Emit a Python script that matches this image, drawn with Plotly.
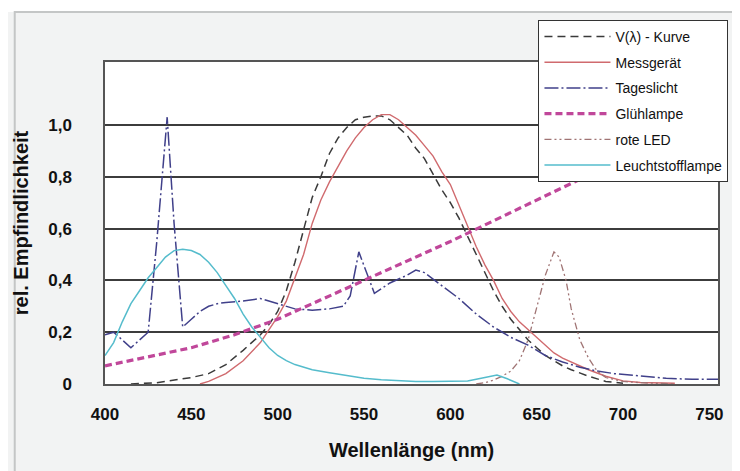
import plotly.graph_objects as go

# ---------------- data ----------------
v_nm = [415, 430, 450, 460, 470, 480, 490, 495, 500, 505, 510, 515, 520, 525, 530, 535,
        540, 545, 550, 555, 560, 565, 570, 575, 580, 585, 590, 595, 600, 605, 610, 615,
        620, 625, 630, 635, 640, 645, 650, 655, 660, 665, 670, 680, 690, 700]
v_val = [0.0, 0.005, 0.025, 0.04, 0.075, 0.13, 0.19, 0.23, 0.28, 0.36, 0.47, 0.60, 0.72,
         0.80, 0.89, 0.95, 0.99, 1.02, 1.03, 1.035, 1.035, 1.02, 0.99, 0.96, 0.91, 0.87,
         0.81, 0.75, 0.70, 0.64, 0.57, 0.50, 0.43, 0.36, 0.30, 0.25, 0.21, 0.17, 0.14,
         0.11, 0.09, 0.07, 0.055, 0.03, 0.01, 0.003]

mess_nm = [455, 460, 470, 480, 490, 500, 505, 510, 515, 520, 525, 530, 535, 540, 545, 550,
           555, 560, 565, 570, 575, 580, 585, 590, 595, 600, 605, 610, 615, 620, 625, 630,
           635, 640, 645, 650, 655, 660, 665, 670, 680, 690, 700, 710, 730]
mess_val = [0.0, 0.01, 0.04, 0.09, 0.16, 0.26, 0.32, 0.41, 0.50, 0.62, 0.71, 0.78, 0.84,
            0.90, 0.95, 0.99, 1.02, 1.04, 1.04, 1.02, 0.99, 0.96, 0.92, 0.88, 0.82, 0.77,
            0.69, 0.61, 0.53, 0.46, 0.40, 0.33, 0.28, 0.24, 0.21, 0.18, 0.15, 0.12, 0.10,
            0.085, 0.055, 0.03, 0.012, 0.006, 0.003]

tag_nm = [400, 405, 410, 415, 420, 425, 430, 436, 440, 445, 450, 455, 460, 465, 470, 480,
          490, 500, 510, 520, 530, 538, 542, 547, 551, 556, 565, 575, 580, 585, 595, 605,
          615, 625, 635, 645, 655, 665, 675, 685, 695, 710, 725, 740, 755]
tag_val = [0.19, 0.20, 0.17, 0.14, 0.17, 0.20, 0.55, 1.03, 0.62, 0.22, 0.25, 0.28, 0.30,
           0.31, 0.315, 0.32, 0.33, 0.31, 0.29, 0.285, 0.29, 0.30, 0.34, 0.51, 0.44, 0.35,
           0.39, 0.42, 0.44, 0.43, 0.38, 0.33, 0.27, 0.22, 0.18, 0.15, 0.11, 0.085, 0.065,
           0.05, 0.04, 0.03, 0.022, 0.018, 0.018]

glueh_nm = [400, 425, 450, 475, 500, 525, 550, 575, 600, 625, 650, 675, 700, 725, 750]
glueh_val = [0.07, 0.105, 0.14, 0.19, 0.25, 0.325, 0.40, 0.475, 0.55, 0.63, 0.71, 0.79,
             0.87, 0.95, 1.03]

led_nm = [615, 620, 625, 630, 635, 640, 645, 650, 655, 660, 663, 667, 670, 675, 680, 685,
          690, 700, 710, 730]
led_val = [0.0, 0.005, 0.015, 0.03, 0.05, 0.09, 0.17, 0.29, 0.42, 0.51, 0.49, 0.40, 0.29,
           0.17, 0.10, 0.05, 0.025, 0.01, 0.005, 0.0]

leucht_nm = [400, 405, 410, 415, 420, 425, 430, 435, 440, 445, 450, 455, 460, 465, 470, 475,
             480, 485, 490, 495, 500, 505, 510, 515, 520, 530, 540, 550, 560, 570, 580, 590,
             600, 610, 620, 627, 633, 640]
leucht_val = [0.11, 0.16, 0.24, 0.31, 0.36, 0.41, 0.45, 0.49, 0.515, 0.52, 0.515, 0.50,
              0.47, 0.43, 0.38, 0.33, 0.27, 0.22, 0.18, 0.14, 0.11, 0.09, 0.075, 0.065,
              0.055, 0.043, 0.032, 0.022, 0.016, 0.012, 0.01, 0.01, 0.01, 0.012, 0.025,
              0.035, 0.02, 0.0]

x_ticks = [400, 450, 500, 550, 600, 650, 700, 750]
y_ticks = [0, 0.2, 0.4, 0.6, 0.8, 1.0]
y_ticktext = ["0", "0,2", "0,4", "0,6", "0,8", "1,0"]

names = ["V(λ) - Kurve", "Messgerät", "Tageslicht", "Glühlampe", "rote LED",
         "Leuchtstofflampe"]

# ---------------- figure ----------------
fig = go.Figure()

series = [
    (v_nm, v_val, dict(color="#3a3a3a", width=1.5, dash="8px,5px")),
    (mess_nm, mess_val, dict(color="#d06a6e", width=1.4)),
    (tag_nm, tag_val, dict(color="#40408a", width=1.5, dash="14px,3px,2px,3px")),
    (glueh_nm, glueh_val, dict(color="#c0479a", width=3.2, dash="7px,4px")),
    (led_nm, led_val, dict(color="#a07474", width=1.3, dash="7px,3px,2px,3px,2px,3px")),
    (leucht_nm, leucht_val, dict(color="#55bccc", width=1.5)),
]
for i, (xs, ys, line) in enumerate(series):
    fig.add_trace(go.Scatter(x=xs, y=ys, mode="lines", name=names[i], line=line,
                             legendgroup=f"g{i}"))

FONT = "Liberation Sans, Arial, sans-serif"
tick_font = dict(family=FONT, size=17, color="#111111", weight="bold")
title_font = dict(family=FONT, size=20, color="#111111", weight="bold")

# plot area in figure pixels (page is offset by the 8px body margin)
L, R, T, B = 92, 710, 54, 376
W, H = R - L, B - T

fig.update_layout(
    width=740, height=471,
    margin=dict(l=L, r=740 - R, t=T, b=471 - B),
    paper_bgcolor="#f2f3f3",
    plot_bgcolor="#ffffff",
    showlegend=True,
    legend=dict(
        x=(529 - L) / W, y=(B - 12) / H, xanchor="left", yanchor="top",
        bgcolor="#ffffff", bordercolor="#333333", borderwidth=1,
        font=dict(family=FONT, size=14, color="#111111"),
        traceorder="grouped", tracegroupgap=4.5, itemwidth=66,
    ),
    xaxis=dict(
        range=[400, 755], tickvals=x_ticks, showgrid=False, zeroline=False,
        showline=True, mirror=True, linecolor="#555555", linewidth=1.5,
        ticks="outside", ticklen=0, tickfont=tick_font, ticklabelstandoff=14,
        title=dict(text="Wellenlänge (nm)", font=title_font, standoff=20),
    ),
    yaxis=dict(
        range=[0, 1.243], tickvals=y_ticks, ticktext=y_ticktext,
        showgrid=True, gridcolor="#3c3c3c", gridwidth=1.5, zeroline=False,
        showline=True, mirror=True, linecolor="#555555", linewidth=1.5,
        ticks="outside", ticklen=0, tickfont=tick_font, ticklabelstandoff=28,
        title=dict(text="rel. Empfindlichkeit", font=title_font, standoff=14),
    ),
    shapes=[
        # white strip above the panel frame
        dict(type="rect", xref="paper", yref="paper",
             x0=-0.3, x1=1.3, y0=(B - 4) / H, y1=(B + 2) / H,
             line=dict(width=0), fillcolor="#ffffff", layer="below"),
        # panel frame
        dict(type="rect", xref="paper", yref="paper",
             x0=(1 - L) / W, x1=(760 - L) / W,
             y0=(B - 500) / H, y1=(B - 4) / H,
             line=dict(color="#c4c6c6", width=2), fillcolor="rgba(0,0,0,0)",
             layer="below"),
    ],
)

fig.write_html("out.html")
